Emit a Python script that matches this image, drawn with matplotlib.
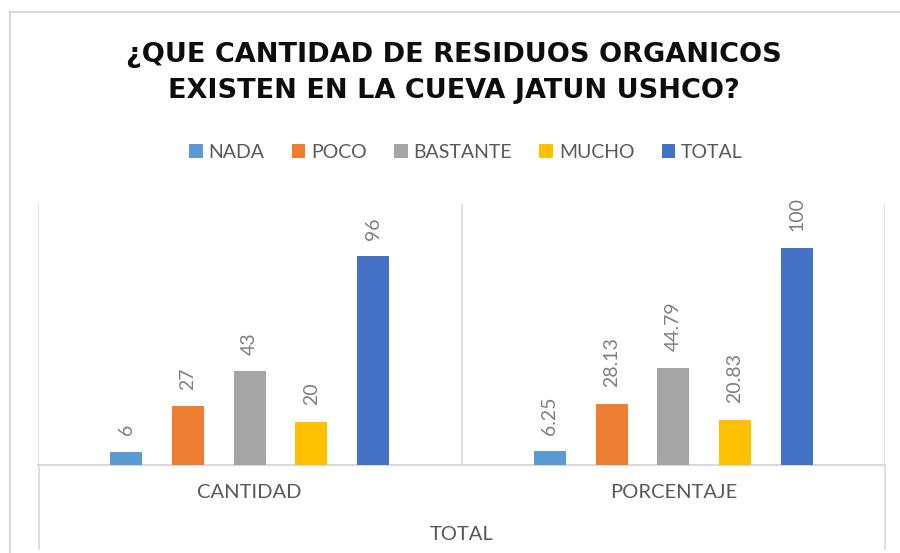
import numpy as np
import matplotlib
matplotlib.use('Agg')
import matplotlib.pyplot as plt
from matplotlib.lines import Line2D
from matplotlib.patches import Patch

#######
# DATA
categories = ['CANTIDAD', 'PORCENTAJE']
series = ['NADA', 'POCO', 'BASTANTE', 'MUCHO', 'TOTAL']
values = {
	'NADA': [6, 6.25],
	'POCO': [27, 28.13],
	'BASTANTE': [43, 44.79],
	'MUCHO': [20, 20.83],
	'TOTAL': [96, 100],
}
labels = {
	'NADA': ['6', '6.25'],
	'POCO': ['27', '28.13'],
	'BASTANTE': ['43', '44.79'],
	'MUCHO': ['20', '20.83'],
	'TOTAL': ['96', '100'],
}
colors = ['#5B9BD5', '#ED7D31', '#A5A5A5', '#FFC000', '#4472C4']
axisTitle = 'TOTAL'
title = '¿QUE CANTIDAD DE RESIDUOS ORGANICOS\nEXISTEN EN LA CUEVA JATUN USHCO?'

plt.rcParams['font.family'] = ['Lato', 'DejaVu Sans']
gridColor = '#D9D9D9'
textColor = '#595959'

fig = plt.figure(figsize=(9, 5.53), dpi=100)
W, H = 900., 553.
ax = fig.add_axes([38 / W, 1 - 465 / H, 847 / W, 261 / H])  #plot area in pixel units of the reference

x = np.arange(len(categories))
step = 0.1456  #distance between bars in one group
width = 0.0755
for k, s in enumerate(series):
	pos = x + (k - 2) * step
	bars = ax.bar(pos, values[s], width=width, color=colors[k], zorder=3)
	ax.bar_label(bars, labels=labels[s], rotation=90, padding=12, color='#7F7F7F', fontsize=14)

ax.set_xlim(-0.5, 1.5)
ax.set_ylim(0, 120)
ax.set_yticks([])
ax.set_xticks([])
for side in ['top', 'right', 'left']:
	ax.spines[side].set_visible(False)
ax.spines['bottom'].set_color(gridColor)
ax.spines['bottom'].set_linewidth(1.5)
for xv in [-0.5, 0.5, 1.5]:
	ax.axvline(xv, color=gridColor, linewidth=1.2, zorder=1)

# category labels and axis title, placed under the plot area
for k, c in enumerate(categories):
	ax.annotate(c, xy=(x[k], 0), xycoords='data', xytext=(0, -28), textcoords='offset pixels',
	            ha='center', va='center', fontsize=14.5, color=textColor)
fig.text(462 / W, 1 - 535 / H, axisTitle, ha='center', va='center', fontsize=14.5, color=textColor)

# frame lines of the category box and of the chart area
for xp in [38.5, 884.5]:
	fig.add_artist(Line2D([xp / W, xp / W], [1 - 465 / H, 1 - 549 / H], color=gridColor, linewidth=1.2))
fig.add_artist(Line2D([10 / W, 10 / W], [1 - 12 / H, 0], color=gridColor, linewidth=1.5))
fig.add_artist(Line2D([10 / W, 1], [1 - 12 / H, 1 - 12 / H], color=gridColor, linewidth=1.5))

fig.text(454 / W, 1 - 73 / H, title, ha='center', va='center', fontsize=19.5, fontweight='bold',
         color='#0D0D0D', linespacing=1.5, family=['DejaVu Sans'])

handles = [Patch(facecolor=colors[k], label=s) for k, s in enumerate(series)]
fig.legend(handles=handles, loc='center', bbox_to_anchor=(466 / W, 1 - 152 / H), ncol=5, frameon=False,
           fontsize=14, labelcolor=textColor, handlelength=0.7, handleheight=0.7, handletextpad=0.3,
           columnspacing=1.4)

fig.savefig('out.png', dpi=100)
